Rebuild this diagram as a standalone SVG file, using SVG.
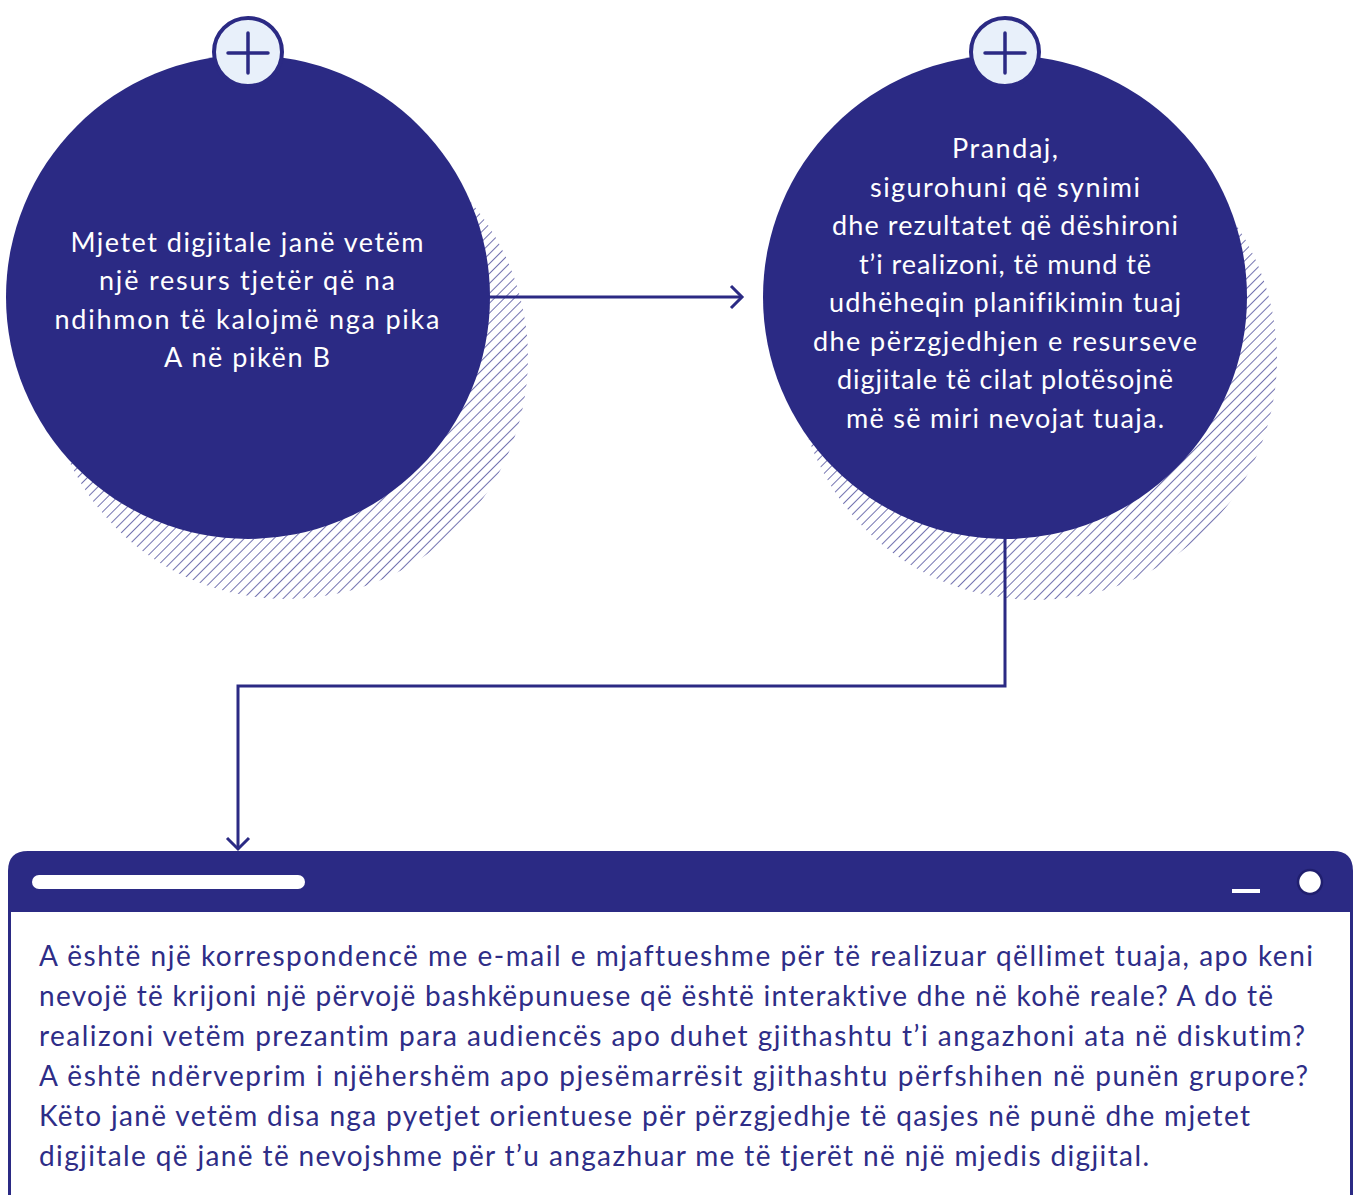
<svg xmlns="http://www.w3.org/2000/svg" width="1359" height="1195" viewBox="0 0 1359 1195">
<style>
.navy{fill:#2b2a84}
.ctext{font-family:Lato,"Noto Sans","DejaVu Sans",sans-serif;font-size:27px;fill:#ffffff;text-anchor:middle;font-variant-ligatures:none}
.btext{font-family:Lato,"Noto Sans","DejaVu Sans",sans-serif;font-size:28px;fill:#2e2d87;font-variant-ligatures:none}
.conn{fill:none;stroke:#2b2a84;stroke-width:3}
.badge{fill:#e8f0fa;stroke:#2b2a84;stroke-width:4}
.plus{stroke:#2b2a84;stroke-width:3.5;stroke-linecap:round}
</style>
<defs>
<pattern id="hatch" width="7" height="7" patternUnits="userSpaceOnUse" patternTransform="rotate(45)">
<line x1="0" y1="0" x2="0" y2="7" stroke="#4f4f9c" stroke-width="1.6"/>
</pattern>
</defs>
<rect width="1359" height="1195" fill="#ffffff"/>

<g id="node-circle1">
<circle cx="287" cy="358" r="241" fill="url(#hatch)"/>
<circle cx="248" cy="297" r="242" class="navy"/>
<circle cx="248" cy="52" r="34" class="badge"/>
<line x1="228" y1="53" x2="268" y2="53" class="plus"/>
<line x1="248" y1="33" x2="248" y2="73" class="plus"/>
<text class="ctext" x="247" y="252" textLength="353" lengthAdjust="spacing">Mjetet digjitale janë vetëm</text>
<text class="ctext" x="247" y="290" textLength="296" lengthAdjust="spacing">një resurs tjetër që na</text>
<text class="ctext" x="247" y="329" textLength="385" lengthAdjust="spacing">ndihmon të kalojmë nga pika</text>
<text class="ctext" x="247" y="367" textLength="166" lengthAdjust="spacing">A në pikën B</text>
</g>

<g id="node-circle2">
<circle cx="1036" cy="359" r="241" fill="url(#hatch)"/>
<circle cx="1005" cy="297" r="242" class="navy"/>
<circle cx="1005" cy="52" r="34" class="badge"/>
<line x1="985" y1="53" x2="1025" y2="53" class="plus"/>
<line x1="1005" y1="33" x2="1005" y2="73" class="plus"/>
<text class="ctext" x="1005" y="158" textLength="106" lengthAdjust="spacing">Prandaj,</text>
<text class="ctext" x="1005" y="196.5" textLength="270" lengthAdjust="spacing">sigurohuni që synimi</text>
<text class="ctext" x="1005" y="235" textLength="346" lengthAdjust="spacing">dhe rezultatet që dëshironi</text>
<text class="ctext" x="1005" y="273.5" textLength="292" lengthAdjust="spacing">t’i realizoni, të mund të</text>
<text class="ctext" x="1005" y="312" textLength="352" lengthAdjust="spacing">udhëheqin planifikimin tuaj</text>
<text class="ctext" x="1005" y="350.5" textLength="384" lengthAdjust="spacing">dhe përzgjedhjen e resurseve</text>
<text class="ctext" x="1005" y="389" textLength="336" lengthAdjust="spacing">digjitale të cilat plotësojnë</text>
<text class="ctext" x="1005" y="427.5" textLength="318" lengthAdjust="spacing">më së miri nevojat tuaja.</text>
</g>

<g id="connectors">
<path class="conn" d="M488,297 H742"/>
<path class="conn" d="M731,286 L742,297 L731,308"/>
<path class="conn" d="M1005,539 V686 H238 V849"/>
<path class="conn" d="M227,838 L238,849 L249,838"/>
</g>

<g id="node-window">
<path class="navy" d="M8,1195 V871 Q8,851 28,851 H1333 Q1353,851 1353,871 V1195 Z"/>
<rect x="11" y="912" width="1339" height="290" fill="#ffffff"/>
<rect x="32" y="875" width="273" height="14" rx="7" fill="#ffffff"/>
<rect x="1232" y="889" width="28" height="4" fill="#ffffff"/>
<circle cx="1310" cy="882" r="12" fill="#ffffff" stroke="#201f6e" stroke-width="2.5"/>
<text class="btext" x="39" y="966" textLength="1274" lengthAdjust="spacing">A është një korrespondencë me e-mail e mjaftueshme për të realizuar qëllimet tuaja, apo keni</text>
<text class="btext" x="39" y="1006" textLength="1234" lengthAdjust="spacing">nevojë të krijoni një përvojë bashkëpunuese që është interaktive dhe në kohë reale? A do të</text>
<text class="btext" x="39" y="1046" textLength="1266" lengthAdjust="spacing">realizoni vetëm prezantim para audiencës apo duhet gjithashtu t’i angazhoni ata në diskutim?</text>
<text class="btext" x="39" y="1086" textLength="1269" lengthAdjust="spacing">A është ndërveprim i njëhershëm apo pjesëmarrësit gjithashtu përfshihen në punën grupore?</text>
<text class="btext" x="39" y="1126" textLength="1211" lengthAdjust="spacing">Këto janë vetëm disa nga pyetjet orientuese për përzgjedhje të qasjes në punë dhe mjetet</text>
<text class="btext" x="39" y="1166" textLength="1110" lengthAdjust="spacing">digjitale që janë të nevojshme për t’u angazhuar me të tjerët në një mjedis digjital.</text>
</g>
</svg>
